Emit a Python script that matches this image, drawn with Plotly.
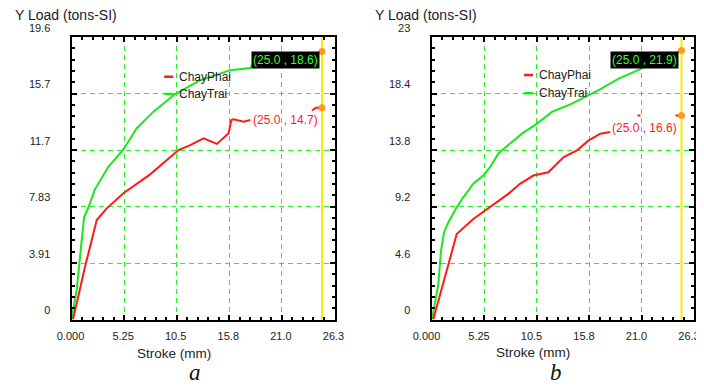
import plotly.graph_objects as go

# ---------------- data ----------------
x_tickvals = [0, 5.25, 10.5, 15.75, 21.0, 26.25]
x_ticktext = ["0.000", "5.25", "10.5", "15.8", "21.0", "26.3"]

ya_tickvals = [0, 3.92, 7.84, 11.76, 15.68, 19.6]
ya_ticktext = ["0", "3.91", "7.83", "11.7", "15.7", "19.6"]
yb_tickvals = [0, 4.6, 9.2, 13.8, 18.4, 23.0]
yb_ticktext = ["0", "4.6", "9.2", "13.8", "18.4", "23"]

cursor_x = 25.0

# panel a
a_phai_x = [0.15, 1.35, 2.52, 3.52, 5.18, 7.85, 10.68, 11.85, 13.18, 14.52, 15.68, 15.95,
            16.18, 17.18, 17.85, None, 24.0, 24.4, 25.0]
a_phai_y = [0, 3.66, 6.9, 7.71, 8.76, 10.07, 11.76, 12.1, 12.57, 12.18, 12.92, 13.84,
            13.89, 13.72, 13.84, None, 14.5, 14.7, 14.7]
a_trai_x = [0, 0.52, 0.92, 1.25, 1.68, 2.35, 3.68, 5.18, 6.52, 8.18, 10.35, 12.85, 15.85,
            17.85, 18.2, 22.0, 24.8, 25.0]
a_trai_y = [0, 2.05, 4.82, 7.07, 7.77, 9.05, 10.6, 11.8, 13.27, 14.42, 15.64, 16.6, 17.3,
            17.45, 17.8, 18.2, 18.55, 18.6]
a_cursor_vals = [18.6, 14.7]

# panel b
b_phai_x = [0.18, 1.35, 2.52, 4.18, 5.35, 6.52, 7.68, 8.85, 10.18, 11.68, 13.22, 14.55,
            15.72, 16.88, 17.88, None, 20.6, 20.9, None, 24.4, 25.0]
b_phai_y = [0, 3.42, 6.96, 8.19, 8.86, 9.54, 10.23, 11.05, 11.72, 11.99, 13.22, 13.77,
            14.58, 15.13, 15.26, None, 16.6, 16.6, None, 16.6, 16.6]
b_trai_x = [0.05, 0.68, 0.95, 1.25, 1.68, 2.52, 3.18, 4.18, 5.18, 5.85, 6.68, 7.02, 9.05,
            10.55, 12.05, 14.05, 16.72, 18.72, 21.05, 23.0, 25.0]
b_trai_y = [0, 2.87, 5.6, 7.08, 7.9, 9.13, 9.95, 11.05, 11.72, 12.4, 13.5, 13.76, 15.13,
            15.95, 16.9, 17.58, 18.67, 19.62, 20.44, 21.2, 21.9]
b_cursor_vals = [21.9, 16.6]

series_names = ["ChayPhai", "ChayTrai"]
RED = "#ff1a1a"
GREEN = "#1ee61e"
GRID_GREEN = "#2af02a"
YELLOW = "#f8ec00"
ORANGE = "#ff9a1a"

# the page body has an 8px margin, so the figure is drawn 8px in from the window edge
OFF = 8
W, H = 704 - OFF, 387 - OFF
fig = go.Figure()


def px_x(p):
    return (p - OFF) / W


def px_y(p):
    return 1 - (p - OFF) / H


panels = [
    ("x", "y", a_phai_x, a_phai_y, a_trai_x, a_trai_y, a_cursor_vals, 19.6),
    ("x2", "y2", b_phai_x, b_phai_y, b_trai_x, b_trai_y, b_cursor_vals, 23.0),
]

for xa, ya, px_, py_, tx_, ty_, cv, ymax in panels:
    fig.add_trace(go.Scatter(x=[cursor_x, cursor_x], y=[0, ymax], mode="lines",
                             line=dict(color=YELLOW, width=2), xaxis=xa, yaxis=ya,
                             showlegend=False, hoverinfo="skip"))
    fig.add_trace(go.Scatter(x=tx_, y=ty_, mode="lines", name=series_names[1],
                             line=dict(color=GREEN, width=2), xaxis=xa, yaxis=ya,
                             showlegend=False, connectgaps=False))
    fig.add_trace(go.Scatter(x=px_, y=py_, mode="lines", name=series_names[0],
                             line=dict(color=RED, width=2), xaxis=xa, yaxis=ya,
                             showlegend=False, connectgaps=False))
    fig.add_trace(go.Scatter(x=[cursor_x, cursor_x], y=cv, mode="markers",
                             marker=dict(color=ORANGE, size=7), xaxis=xa, yaxis=ya,
                             showlegend=False))

xdom_a = [px_x(71.5), px_x(334.5)]
xdom_b = [px_x(431.5), px_x(694)]
ydom = [px_y(319.5), px_y(37)]

axis_common = dict(
    showline=True, linecolor="black", linewidth=2, mirror="ticks", automargin=False,
    ticks="inside", ticklen=5, tickwidth=2, tickcolor="black",
    showgrid=True, gridcolor=GRID_GREEN, gridwidth=1.3, griddash="5px,4px",
    zeroline=False, ticklabeloverflow="allow",
    tickfont=dict(family="Liberation Sans, Arial", size=11, color="#222"),
)

fig.update_layout(
    template="none",
    width=W, height=H, margin=dict(l=0, r=0, t=0, b=0, autoexpand=False),
    paper_bgcolor="white", plot_bgcolor="white", showlegend=False,
    xaxis=dict(domain=xdom_a, range=[0, 26.25], tickvals=x_tickvals, ticktext=x_ticktext,
               anchor="y", ticklabelstandoff=5, ticklabelshift=-1,
               minor=dict(ticks="inside", ticklen=3, tickcolor="black", dtick=1.05, tick0=0, showgrid=False),
               **axis_common),
    yaxis=dict(domain=ydom, range=[0, 19.6], tickvals=ya_tickvals, ticktext=ya_ticktext,
               anchor="x", ticklabelstandoff=17, ticklabelshift=-9,
               minor=dict(ticks="inside", ticklen=3, tickcolor="black", dtick=0.784, tick0=0, showgrid=False),
               **axis_common),
    xaxis2=dict(domain=xdom_b, range=[0, 26.25], tickvals=x_tickvals, ticktext=x_ticktext,
                anchor="y2", ticklabelstandoff=5, ticklabelshift=-5,
                minor=dict(ticks="inside", ticklen=3, tickcolor="black", dtick=1.05, tick0=0, showgrid=False),
                **axis_common),
    yaxis2=dict(domain=ydom, range=[0, 23], tickvals=yb_tickvals, ticktext=yb_ticktext,
                anchor="x2", ticklabelstandoff=17, ticklabelshift=-9,
                minor=dict(ticks="inside", ticklen=3, tickcolor="black", dtick=0.92, tick0=0, showgrid=False),
                **axis_common),
)

sans = "Liberation Sans, Arial"
ann = []
# axis titles
for cx, title_y, ytitle_x in [(174, 353, 13), (533, 352, 373)]:
    ann.append(dict(xref="paper", yref="paper", x=px_x(cx), y=px_y(title_y), text="Stroke (mm)",
                    showarrow=False, xanchor="center", yanchor="middle",
                    font=dict(family=sans, size=13.5, color="#222")))
    ann.append(dict(xref="paper", yref="paper", x=px_x(ytitle_x), y=px_y(15), text="Y Load (tons-SI)",
                    showarrow=False, xanchor="left", yanchor="middle",
                    font=dict(family=sans, size=14, color="#222")))
# panel letters
for cx, letter in [(195, "a"), (556, "b")]:
    ann.append(dict(xref="paper", yref="paper", x=px_x(cx), y=px_y(386.5), text="<i>%s</i>" % letter,
                    showarrow=False, xanchor="center", yanchor="bottom",
                    font=dict(family="Liberation Serif, Times New Roman", size=23, color="#111")))

# cursor value labels
for xr, yr, cv, gy, ry, rx in [("x", "y", a_cursor_vals, 18.0, 13.84, 24.85),
                               ("x2", "y2", b_cursor_vals, 21.16, 15.6, 24.75)]:
    ann.append(dict(xref=xr, yref=yr, x=rx, y=gy, text="(%.1f , %.1f)" % (cursor_x, cv[0]),
                    showarrow=False, xanchor="right", yanchor="middle", bgcolor="black",
                    borderpad=1, font=dict(family=sans, size=12, color="#33ff33")))
    ann.append(dict(xref=xr, yref=yr, x=rx, y=ry, text="(%.1f , %.1f)" % (cursor_x, cv[1]),
                    showarrow=False, xanchor="right", yanchor="middle",
                    font=dict(family=sans, size=12, color=RED)))

# in-plot legends
legend_pos = [("x", "y", 16.85, 15.64), ("x2", "y2", 19.9, 18.42)]
for xr, yr, y1, y2 in legend_pos:
    for yy, name, col in [(y1, series_names[0], RED), (y2, series_names[1], GREEN)]:
        fig.add_shape(type="line", xref=xr, yref=yr, x0=9.25, x1=10.15, y0=yy, y1=yy,
                      line=dict(color=col, width=2.5))
        ann.append(dict(xref=xr, yref=yr, x=10.5, y=yy, text=name, showarrow=False,
                        xanchor="left", yanchor="middle",
                        font=dict(family=sans, size=12, color="#222")))

fig.update_layout(annotations=ann)
fig.write_html("out.html")
